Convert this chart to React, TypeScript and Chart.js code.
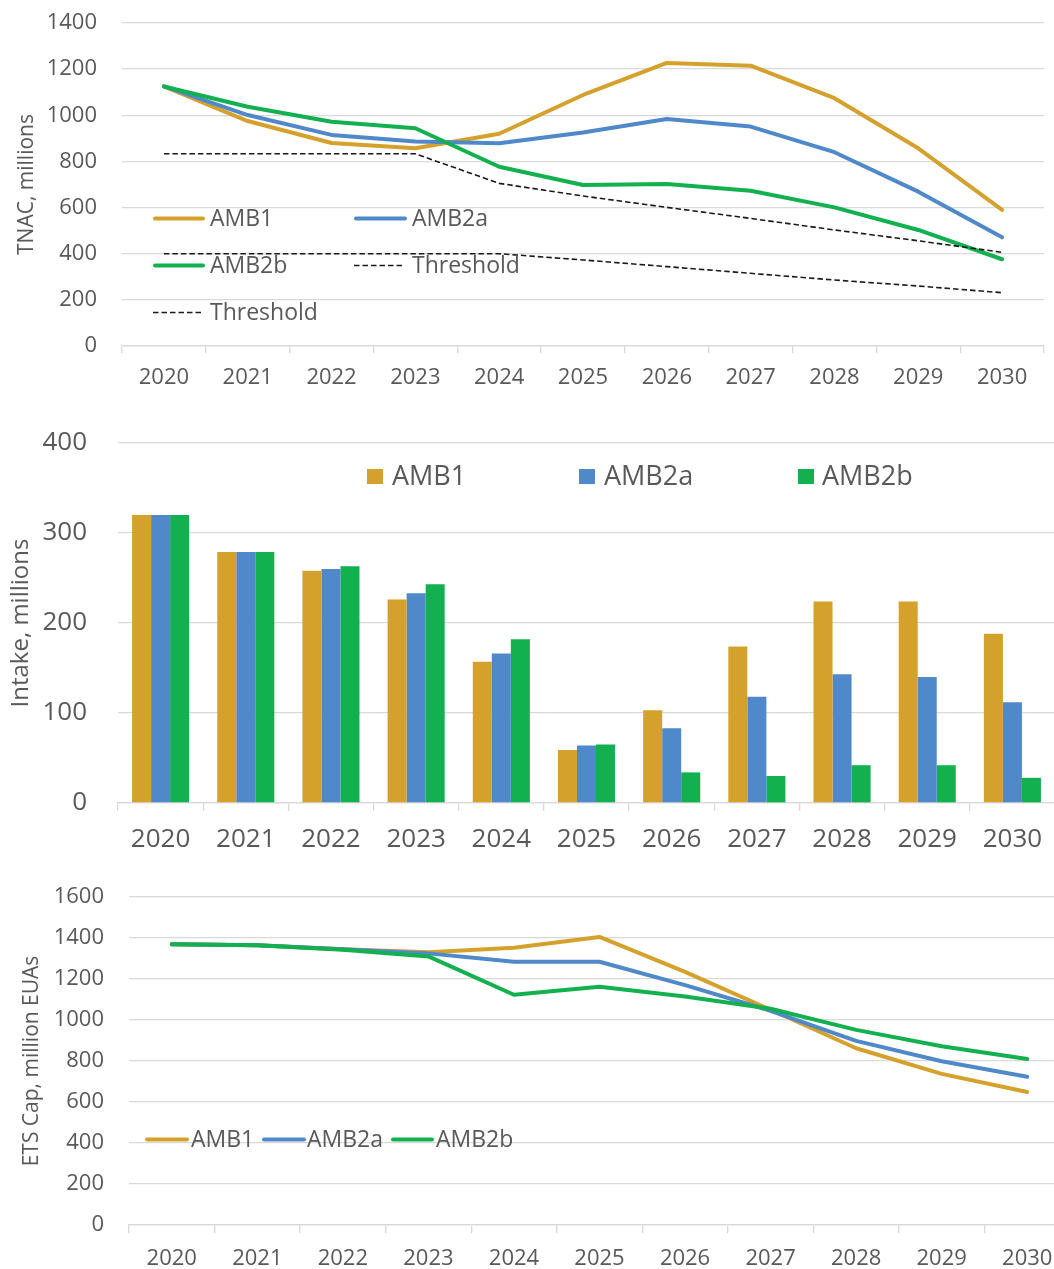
import React, { useEffect, useRef } from 'react';
import { Chart, registerables } from 'chart.js';

Chart.register(...registerables);

// ---------- data ----------
const years = ['2020', '2021', '2022', '2023', '2024', '2025', '2026', '2027', '2028', '2029', '2030'];

const tnacAMB1 = [1125, 975, 880, 857, 920, 1088, 1227, 1215, 1074, 857, 590];
const tnacAMB2a = [1125, 1001, 915, 886, 879, 925, 984, 951, 840, 669, 471];
const tnacAMB2b = [1125, 1037, 972, 944, 777, 698, 702, 673, 601, 503, 376];
const thresholdUpper = [833, 833, 833, 833, 705, 650, 601, 553, 503, 456, 406];
const thresholdLower = [400, 400, 400, 400, 400, 373, 344, 315, 286, 260, 231];

const intakeAMB1 = [320, 279, 258, 226, 157, 59, 103, 174, 224, 224, 188];
const intakeAMB2a = [320, 279, 260, 233, 166, 64, 83, 118, 143, 140, 112];
const intakeAMB2b = [320, 279, 263, 243, 182, 65, 34, 30, 42, 42, 28];

const capAMB1 = [1370, 1365, 1345, 1330, 1352, 1405, 1235, 1050, 862, 737, 649];
const capAMB2a = [1370, 1365, 1345, 1325, 1284, 1284, 1170, 1045, 898, 799, 723];
const capAMB2b = [1370, 1365, 1343, 1310, 1123, 1162, 1115, 1055, 952, 872, 810];

const seriesNames = ['AMB1', 'AMB2a', 'AMB2b'];
const thresholdName = 'Threshold';

// ---------- styles ----------
const FONT = "'Open Sans', sans-serif";
const TEXT = '#595959';
const GRID = '#d9d9d9';
const C1 = '#D5A12D';
const C2 = '#4F89C9';
const C3 = '#13B04F';
const CT = '#1a1a1a';

type LegendPos = { idx: number; x0: number; x1: number; y: number; tx: number; base: number };

function legendPlugin(positions: LegendPos[], fontSize: number, kind: 'line' | 'box') {
  return {
    id: 'customLegend',
    afterDraw(chart: any) {
      const ctx = chart.ctx as CanvasRenderingContext2D;
      ctx.save();
      positions.forEach((p) => {
        const ds: any = chart.data.datasets[p.idx];
        if (kind === 'box') {
          ctx.fillStyle = ds.backgroundColor;
          ctx.fillRect(p.x0, p.y - 7.5, p.x1 - p.x0, 15);
        } else {
          const dashed = Array.isArray(ds.borderDash) && ds.borderDash.length > 0;
          ctx.strokeStyle = ds.borderColor;
          ctx.lineWidth = dashed ? 1.6 : 4;
          ctx.setLineDash(dashed ? ds.borderDash : []);
          ctx.lineCap = dashed ? 'butt' : 'round';
          ctx.beginPath();
          ctx.moveTo(p.x0, p.y);
          ctx.lineTo(p.x1, p.y);
          ctx.stroke();
          ctx.setLineDash([]);
        }
        ctx.fillStyle = TEXT;
        ctx.font = `${fontSize}px ${FONT}`;
        ctx.textAlign = 'left';
        ctx.textBaseline = 'alphabetic';
        ctx.fillText(ds.label, p.tx, p.base);
      });
      ctx.restore();
    },
  };
}

function lineDs(label: string, data: number[], color: string, order: number, dash?: number[]) {
  return {
    label,
    data,
    borderColor: color,
    backgroundColor: color,
    borderWidth: dash ? 1.6 : 4,
    borderDash: dash,
    pointRadius: 0,
    pointHoverRadius: 0,
    tension: 0,
    borderCapStyle: dash ? 'butt' : 'round',
    borderJoinStyle: 'round',
    fill: false,
    order,
  };
}

function xScale(fontSize: number, tickLen: number, pad: number, height: number) {
  return {
    offset: true,
    grid: { offset: true, drawOnChartArea: false, drawTicks: true, tickLength: tickLen, color: GRID, lineWidth: 1.3 },
    border: { display: true, color: GRID, width: 1.3 },
    ticks: { color: TEXT, font: { family: FONT, size: fontSize }, padding: pad, maxRotation: 0, autoSkip: false },
    afterFit: (s: any) => {
      s.height = height;
      s.paddingLeft = 0;
      s.paddingRight = 0;
    },
  };
}

function yScale(max: number, step: number, fontSize: number, pad: number, width: number, title: string, titleSize: number, titlePad: number) {
  return {
    min: 0,
    max,
    ticks: {
      stepSize: step,
      color: TEXT,
      font: { family: FONT, size: fontSize },
      padding: pad,
      callback: (v: any) => String(v),
    },
    grid: { color: GRID, drawTicks: false, lineWidth: 1.3 },
    border: { display: false },
    title: {
      display: true,
      text: title,
      color: TEXT,
      font: { family: FONT, size: titleSize, lineHeight: 1.2 },
      padding: { top: titlePad, bottom: 0 },
    },
    afterFit: (s: any) => {
      s.width = width;
      s.paddingTop = 0;
      s.paddingBottom = 0;
    },
  };
}

function ChartCanvas({ top, width, height, make }: { top: number; width: number; height: number; make: (c: HTMLCanvasElement) => Chart }) {
  const ref = useRef<HTMLCanvasElement | null>(null);
  useEffect(() => {
    if (!ref.current) return;
    const chart = make(ref.current);
    return () => chart.destroy();
  }, []);
  return (
    <div style={{ position: 'absolute', left: 0, top, width, height }}>
      <canvas ref={ref} width={width} height={height} style={{ width, height, display: 'block' }} />
    </div>
  );
}

const commonOpts = {
  responsive: false,
  maintainAspectRatio: false,
  animation: false as const,
  devicePixelRatio: 1,
  events: [] as any[],
};

function makeTnac(c: HTMLCanvasElement) {
  const datasets: any[] = [
    lineDs(seriesNames[0], tnacAMB1, C1, 4),
    lineDs(seriesNames[1], tnacAMB2a, C2, 3),
    lineDs(seriesNames[2], tnacAMB2b, C3, 2),
    lineDs(thresholdName, thresholdUpper, CT, 1, [5.5, 3]),
    lineDs(thresholdName, thresholdLower, CT, 0, [5.5, 3]),
  ];
  const legend: LegendPos[] = [
    { idx: 0, x0: 155, x1: 203, y: 218.5, tx: 210, base: 226 },
    { idx: 1, x0: 356, x1: 405, y: 218.5, tx: 412, base: 226 },
    { idx: 2, x0: 155, x1: 203, y: 265.5, tx: 210, base: 273 },
    { idx: 3, x0: 354, x1: 405, y: 265.5, tx: 412, base: 273 },
    { idx: 4, x0: 153, x1: 204, y: 312.5, tx: 210, base: 320 },
  ];
  return new Chart(c, {
    type: 'line',
    data: { labels: years, datasets },
    options: {
      ...commonOpts,
      layout: { padding: { top: 23, right: 10, bottom: 0, left: 0 } },
      plugins: { legend: { display: false }, tooltip: { enabled: false } },
      scales: {
        x: xScale(22, 7, 12, 54),
        y: yScale(1400, 200, 22, 25, 122, 'TNAC, millions', 21, 14),
      },
    } as any,
    plugins: [legendPlugin(legend, 23, 'line')],
  });
}

function makeIntake(c: HTMLCanvasElement) {
  const bar = (label: string, data: number[], color: string) => ({
    label,
    data,
    backgroundColor: color,
    borderColor: color,
    borderWidth: 0,
    categoryPercentage: 0.67,
    barPercentage: 1.0,
  });
  const datasets: any[] = [bar(seriesNames[0], intakeAMB1, C1), bar(seriesNames[1], intakeAMB2a, C2), bar(seriesNames[2], intakeAMB2b, C3)];
  const legend: LegendPos[] = [
    { idx: 0, x0: 367, x1: 383, y: 76.5, tx: 392, base: 85 },
    { idx: 1, x0: 579, x1: 595, y: 76.5, tx: 604, base: 85 },
    { idx: 2, x0: 798, x1: 814, y: 76.5, tx: 822, base: 85 },
  ];
  return new Chart(c, {
    type: 'bar',
    data: { labels: years, datasets },
    options: {
      ...commonOpts,
      layout: { padding: { top: 43, right: 5, bottom: 0, left: 0 } },
      plugins: { legend: { display: false }, tooltip: { enabled: false } },
      scales: {
        x: xScale(26, 8, 13, 67),
        y: yScale(400, 100, 26, 31, 118, 'Intake, millions', 24, 6.5),
      },
    } as any,
    plugins: [legendPlugin(legend, 27, 'box')],
  });
}

function makeCap(c: HTMLCanvasElement) {
  const datasets: any[] = [
    lineDs(seriesNames[0], capAMB1, C1, 2),
    lineDs(seriesNames[1], capAMB2a, C2, 1),
    lineDs(seriesNames[2], capAMB2b, C3, 0),
  ];
  const legend: LegendPos[] = [
    { idx: 0, x0: 147, x1: 187, y: 269.5, tx: 191, base: 277 },
    { idx: 1, x0: 264, x1: 304, y: 269.5, tx: 307, base: 277 },
    { idx: 2, x0: 393, x1: 432, y: 269.5, tx: 436, base: 277 },
  ];
  return new Chart(c, {
    type: 'line',
    data: { labels: years, datasets },
    options: {
      ...commonOpts,
      layout: { padding: { top: 27, right: 5, bottom: 0, left: 0 } },
      plugins: { legend: { display: false }, tooltip: { enabled: false } },
      scales: {
        x: xScale(22, 8, 13, 44),
        y: yScale(1600, 200, 22, 25, 129, 'ETS Cap, million EUAs', 21, 19.5),
      },
    } as any,
    plugins: [legendPlugin(legend, 23, 'line')],
  });
}

export default function App() {
  return (
    <div style={{ position: 'absolute', left: 0, top: 0, width: 1054, height: 1269, overflow: 'hidden', background: '#ffffff' }}>
      <ChartCanvas top={0} width={1054} height={400} make={makeTnac} />
      <ChartCanvas top={400} width={1060} height={470} make={makeIntake} />
      <ChartCanvas top={870} width={1075} height={399} make={makeCap} />
    </div>
  );
}
